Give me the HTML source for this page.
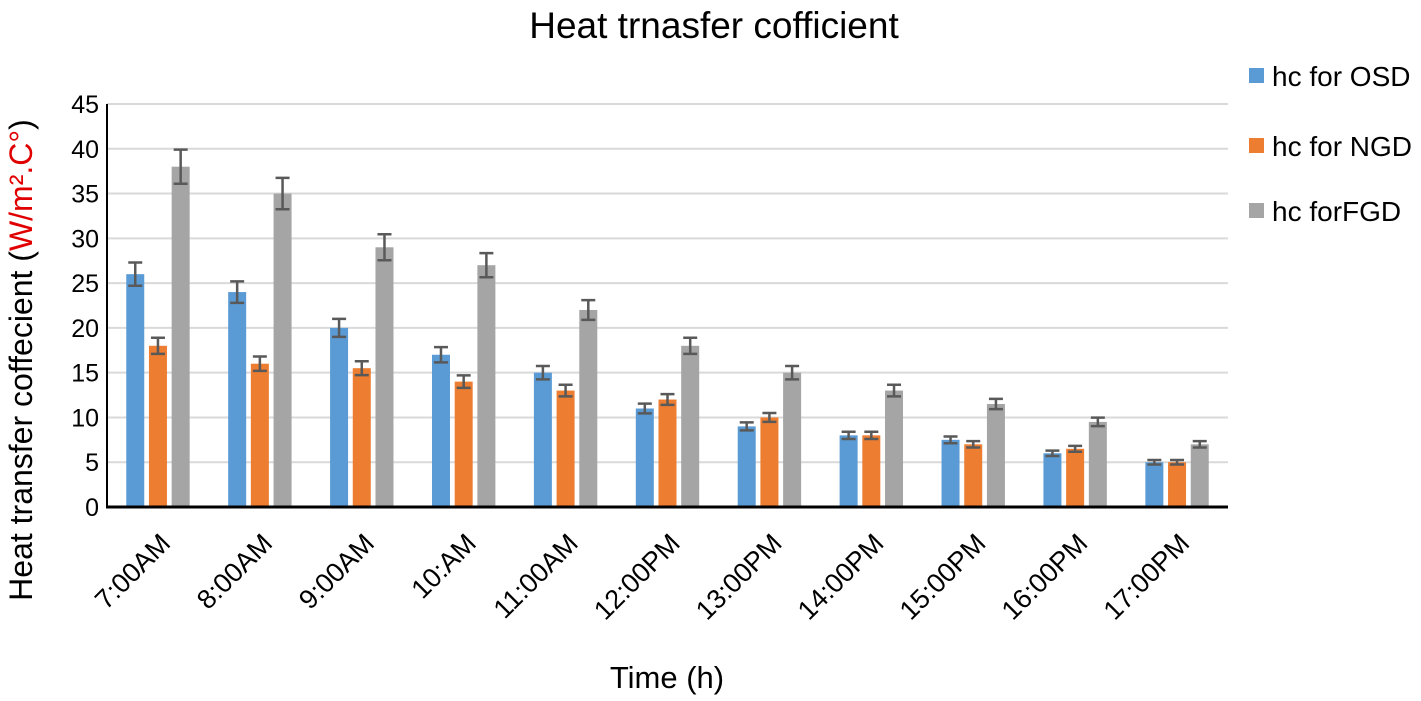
<!DOCTYPE html>
<html><head><meta charset="utf-8"><style>
body{margin:0;background:#fff;font-family:"Liberation Sans",sans-serif}
svg text{font-family:"Liberation Sans",sans-serif}
</style></head><body>
<svg id="c" width="1421" height="696" xmlns="http://www.w3.org/2000/svg">
<text x="714" y="38" font-size="37" text-anchor="middle">Heat trnasfer cofficient</text>
<text x="667" y="688" font-size="31" text-anchor="middle">Time (h)</text>
<text transform="translate(32,360) rotate(-90)" font-size="32" text-anchor="middle">Heat transfer coffecient (<tspan fill="#e00000">W/m².C°</tspan>)</text>
<g id="grid"></g><g id="bars"></g><g id="ticks"></g>
<g>
<rect x="1249" y="68" width="15" height="15" fill="#5b9bd5"/>
<text x="1272" y="86" font-size="28">hc for OSD</text>
<rect x="1249" y="138" width="15" height="15" fill="#ed7d31"/>
<text x="1272" y="156" font-size="28">hc for NGD</text>
<rect x="1249" y="203" width="15" height="15" fill="#a5a5a5"/>
<text x="1272" y="221" font-size="28">hc forFGD</text>
</g>
</svg>
<script>
const categories=["7:00AM","8:00AM","9:00AM","10:AM","11:00AM","12:00PM","13:00PM","14:00PM","15:00PM","16:00PM","17:00PM"];
const osd=[26,24,20,17,15,11,9,8,7.5,6,5];
const ngd=[18,16,15.5,14,13,12,10,8,7,6.5,5];
const fgd=[38,35,29,27,22,18,15,13,11.5,9.5,7];
const yTicks=[0,5,10,15,20,25,30,35,40,45];
const NS="http://www.w3.org/2000/svg";
const x0=107,x1=1228,y0=507,y1=104,ymax=45;
const y=v=>y0-(v/ymax)*(y0-y1);
const step=(x1-x0)/categories.length;
function mk(t,a,p){const e=document.createElementNS(NS,t);for(const k in a)e.setAttribute(k,a[k]);p.appendChild(e);return e;}
const grid=document.getElementById('grid'),bars=document.getElementById('bars'),ticks=document.getElementById('ticks');
yTicks.forEach(v=>{
 if(v>0){const l=mk('line',{x1:x0,x2:x1,y1:y(v),y2:y(v),stroke:'#d9d9d9','stroke-width':2},grid);
 
 }
 const t=mk('text',{x:x0-8,y:y(v)+9,'font-size':25,'text-anchor':'end'},ticks);t.textContent=v;
 
 
});
const series=[[osd,'#5b9bd5','osd',-22.7],[ngd,'#ed7d31','ngd',0],[fgd,'#a5a5a5','fgd',22.7]];
categories.forEach((c,i)=>{
 const cx=x0+step*(i+0.5);
 series.forEach(([arr,col,nm,off])=>{
  const v=arr[i],bx=cx+off-9;
  const r=mk('rect',{x:bx,y:y(v),width:18,height:y0-y(v),fill:col},bars);
  
  
  const e=v*0.05,ex=cx+off;
  const g=mk('path',{d:`M${ex},${y(v+e)}V${y(v-e)}M${ex-7},${y(v+e)}H${ex+7}M${ex-7},${y(v-e)}H${ex+7}`,stroke:'#595959','stroke-width':2.5,fill:'none'},bars);
  
  
 });
 const t=mk('text',{transform:`translate(${cx+14},${y0+38}) rotate(-45)`,'font-size':27,'text-anchor':'end'},ticks);
 t.textContent=c;
 
 
});
const ya=mk('line',{x1:x0,x2:x0,y1:y1,y2:y0,stroke:'#000','stroke-width':2},ticks);


const xa=mk('line',{x1:x0-1,x2:x1,y1:y0,y2:y0,stroke:'#000','stroke-width':3},ticks);


</script>
</body></html>
